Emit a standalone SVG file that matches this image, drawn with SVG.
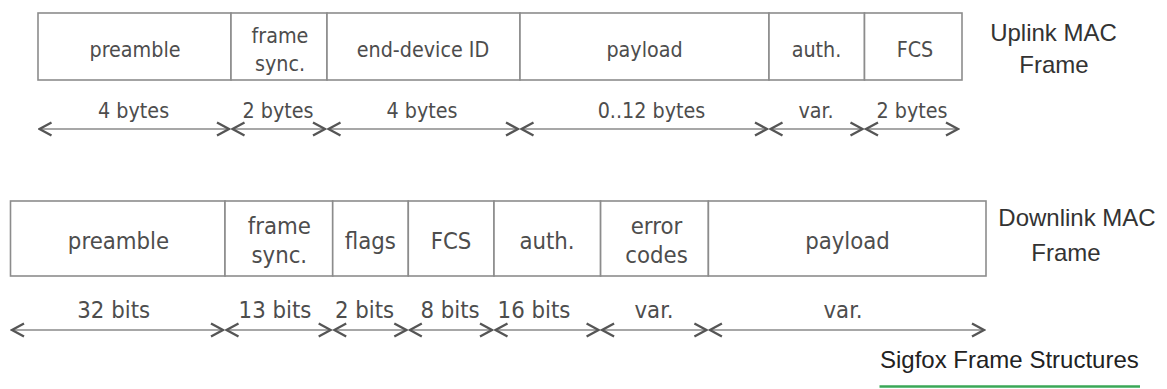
<svg xmlns="http://www.w3.org/2000/svg" width="1167" height="389" viewBox="0 0 1167 389">
<defs>
<style>
.cell{fill:#fff;stroke:#8c8c8c;stroke-width:1.6}
.bt{font-family:'DejaVu Sans Condensed','DejaVu Sans',sans-serif;font-stretch:condensed;fill:#4d4d4d;text-anchor:middle}
.up{font-size:21.3px}
.dn{font-size:23.7px}
.dim{fill:none;stroke:#8a8a8a;stroke-width:1.3;marker-start:url(#chev);marker-end:url(#chev)}
.side{font-family:'Liberation Sans',Arial,sans-serif;font-size:24px;fill:#333;text-anchor:middle}
</style>
<marker id="chev" viewBox="-14 -8 16 16" refX="0" refY="0" markerWidth="16" markerHeight="16" markerUnits="userSpaceOnUse" orient="auto-start-reverse">
<path d="M-12,-6.5 L0,0 L-12,6.5" fill="none" stroke="#555" stroke-width="2.3" stroke-linejoin="miter"/>
</marker>
</defs>
<rect width="1167" height="389" fill="#fff"/>

<g id="uplink-frame">
<g id="up-preamble"><rect class="cell" x="38" y="13" width="193" height="67"/><text class="bt up" x="135" y="57">preamble</text></g>
<g id="up-framesync"><rect class="cell" x="231" y="13" width="96" height="67"/><text class="bt up" x="280" y="42.5">frame</text><text class="bt up" x="280" y="71">sync.</text></g>
<g id="up-deviceid"><rect class="cell" x="327" y="13" width="193" height="67"/><text class="bt up" x="423" y="57">end-device ID</text></g>
<g id="up-payload"><rect class="cell" x="520" y="13" width="249" height="67"/><text class="bt up" x="644.5" y="57">payload</text></g>
<g id="up-auth"><rect class="cell" x="769" y="13" width="95.5" height="67"/><text class="bt up" x="816.5" y="57">auth.</text></g>
<g id="up-fcs"><rect class="cell" x="864.5" y="13" width="97.5" height="67"/><text class="bt up" x="915" y="57">FCS</text></g>
</g>

<g id="uplink-title"><text class="side" x="1053.5" y="40.7">Uplink MAC</text><text class="side" x="1054" y="73">Frame</text></g>

<g id="downlink-frame">
<g id="dn-preamble"><rect class="cell" x="10.5" y="201" width="214.5" height="75"/><text class="bt dn" x="118.5" y="249">preamble</text></g>
<g id="dn-framesync"><rect class="cell" x="225" y="201" width="107.7" height="75"/><text class="bt dn" x="279.3" y="234.3">frame</text><text class="bt dn" x="279.3" y="263.3">sync.</text></g>
<g id="dn-flags"><rect class="cell" x="332.7" y="201" width="75.6" height="75"/><text class="bt dn" x="370.3" y="249">flags</text></g>
<g id="dn-fcs"><rect class="cell" x="408.3" y="201" width="85.7" height="75"/><text class="bt dn" x="451" y="249">FCS</text></g>
<g id="dn-auth"><rect class="cell" x="494" y="201" width="106.6" height="75"/><text class="bt dn" x="547" y="249">auth.</text></g>
<g id="dn-errorcodes"><rect class="cell" x="600.6" y="201" width="107.8" height="75"/><text class="bt dn" x="656.5" y="234.3">error</text><text class="bt dn" x="656.5" y="263.3">codes</text></g>
<g id="dn-payload"><rect class="cell" x="708.4" y="201" width="277.6" height="75"/><text class="bt dn" x="847.5" y="249">payload</text></g>
</g>

<g id="downlink-title"><text class="side" x="1077" y="226">Downlink MAC</text><text class="side" x="1066" y="261">Frame</text></g>

<g id="connectors">
<line class="dim" x1="39.5" y1="129" x2="229" y2="129"/>
<line class="dim" x1="232.5" y1="129" x2="325" y2="129"/>
<line class="dim" x1="328.5" y1="129" x2="518" y2="129"/>
<line class="dim" x1="521.5" y1="129" x2="767" y2="129"/>
<line class="dim" x1="770.5" y1="129" x2="862.5" y2="129"/>
<line class="dim" x1="866" y1="129" x2="958" y2="129"/>
<line class="dim" x1="12" y1="330" x2="223" y2="330"/>
<line class="dim" x1="226.5" y1="330" x2="330.7" y2="330"/>
<line class="dim" x1="334.2" y1="330" x2="406.3" y2="330"/>
<line class="dim" x1="409.8" y1="330" x2="492" y2="330"/>
<line class="dim" x1="495.5" y1="330" x2="598.6" y2="330"/>
<line class="dim" x1="602.1" y1="330" x2="706.4" y2="330"/>
<line class="dim" x1="709.9" y1="330" x2="984" y2="330"/>
</g>

<g id="dimension-labels">
<text class="bt up" x="133.6" y="118">4 bytes</text>
<text class="bt up" x="278" y="118">2 bytes</text>
<text class="bt up" x="422" y="118">4 bytes</text>
<text class="bt up" x="651.5" y="118">0..12 bytes</text>
<text class="bt up" x="816" y="118">var.</text>
<text class="bt up" x="912" y="118">2 bytes</text>
<text class="bt dn" x="113.7" y="318">32 bits</text>
<text class="bt dn" x="275" y="318">13 bits</text>
<text class="bt dn" x="364.5" y="318">2 bits</text>
<text class="bt dn" x="450" y="318">8 bits</text>
<text class="bt dn" x="534" y="318">16 bits</text>
<text class="bt dn" x="654" y="318">var.</text>
<text class="bt dn" x="843" y="318">var.</text>
</g>

<g id="caption">
<text x="880" y="368" style="font-family:'Liberation Sans',Arial,sans-serif;font-size:24px;fill:#222">Sigfox Frame Structures</text>
<line x1="879.5" y1="386.5" x2="1140" y2="386.5" stroke="#3aa757" stroke-width="2.5"/>
</g>
</svg>
